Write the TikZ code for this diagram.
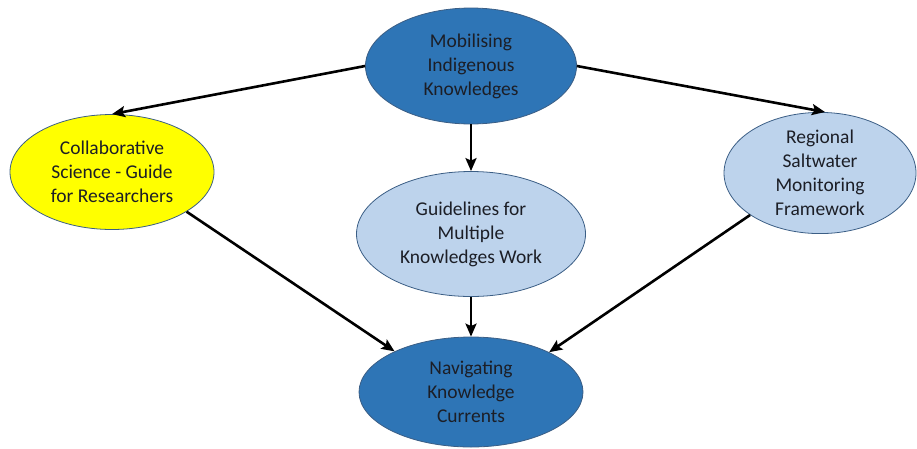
\documentclass[tikz,border=0pt]{standalone}
\usepackage{fontspec}
\setmainfont{Carlito}
\usetikzlibrary{shapes.geometric,arrows.meta}
\definecolor{darkblue}{HTML}{2E75B6}
\definecolor{lightblue}{HTML}{BDD3EC}
\definecolor{yel}{HTML}{FFFF00}
\definecolor{edge}{HTML}{3B5E85}
\definecolor{txt}{HTML}{1C1E26}
\tikzset{
  bubble/.style={ellipse, draw=edge, line width=0.8pt, inner sep=0pt, align=center,
    text=txt, font=\fontsize{19.5}{24}\selectfont},
  darkb/.style={bubble, fill=darkblue},
  lightb/.style={bubble, fill=lightblue},
  yellowb/.style={bubble, fill=yel},
  conn/.style={line width=2.6pt, draw=black, -{Stealth[length=13pt,width=11pt,inset=2.5pt]}}
}
\begin{document}
\begin{tikzpicture}[x=1pt,y=-1pt]
\useasboundingbox (0,0) rectangle (917,448);
\node[darkb, minimum width=211pt, minimum height=116pt] (top) at (471,66) {Mobilising\\Indigenous\\Knowledges};
\node[yellowb, minimum width=204pt, minimum height=115pt] (left) at (112,172) {Collaborative\\Science - Guide\\for Researchers};
\node[lightb, minimum width=229pt, minimum height=125pt] (mid) at (471,234) {Guidelines for\\Multiple\\Knowledges Work};
\node[lightb, minimum width=192pt, minimum height=120pt] (right) at (820,173) {Regional\\Saltwater\\Monitoring\\Framework};
\node[darkb, minimum width=224pt, minimum height=110pt] (bot) at (471,392) {Navigating\\Knowledge\\Currents};
\draw[conn] (top.west) -- (left.north);
\draw[conn] (top.east) -- ([xshift=5pt]right.north);
\draw[conn] (top.south) -- (mid.north);
\draw[conn] (left.-28) -- (bot.152);
\draw[conn] (mid.south) -- (bot.north);
\draw[conn] (right.211) -- (bot.27);
\end{tikzpicture}
\end{document}
